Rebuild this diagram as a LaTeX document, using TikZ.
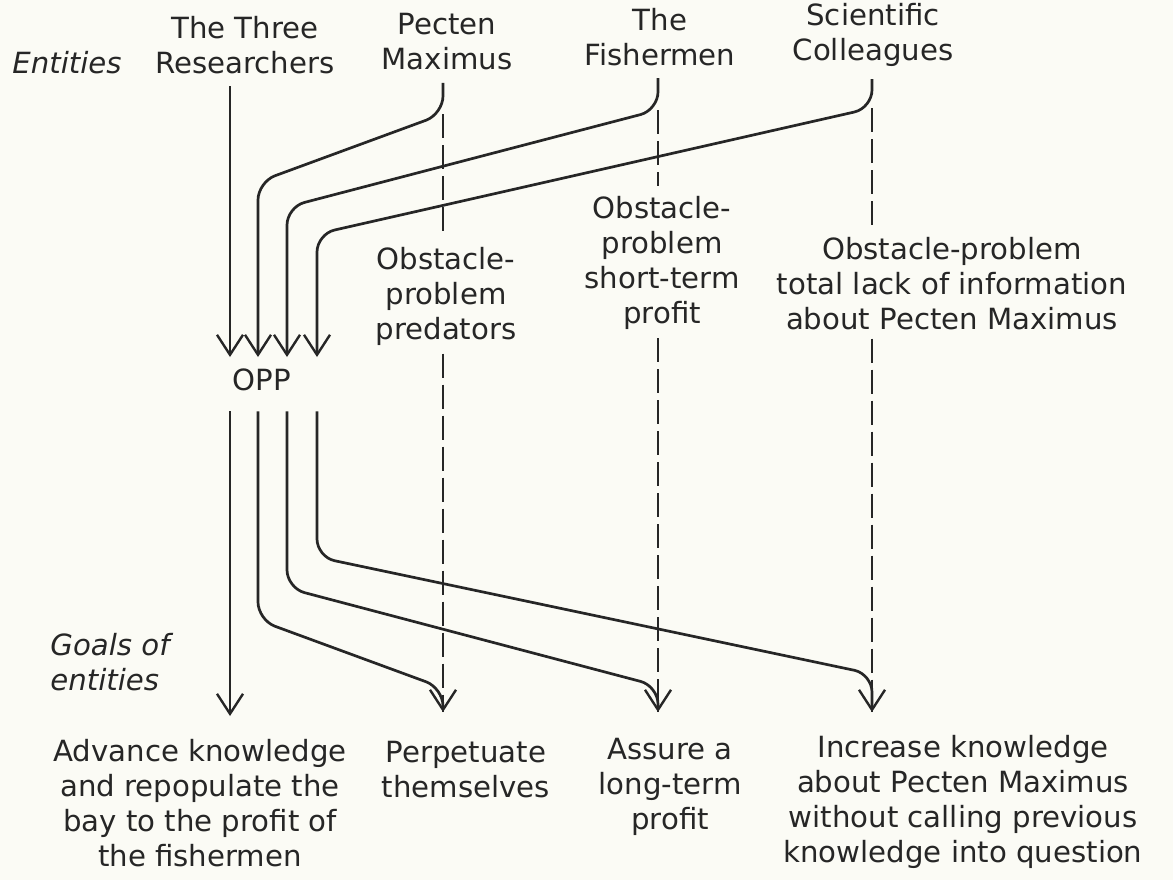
\documentclass[tikz,border=0pt]{standalone}
\usepackage{fontspec}
\setmainfont{DejaVu Sans}
\usetikzlibrary{arrows.meta}
\definecolor{paper}{HTML}{FBFBF5}
\definecolor{ink}{HTML}{262626}
\begin{document}
\begin{tikzpicture}[x=0.5pt,y=-0.5pt,
  txt/.style={inner sep=0pt,align=center,text=ink,font=\fontsize{14.6}{17.5}\selectfont},
  itxt/.style={txt,font=\fontsize{14.6}{17.5}\selectfont\itshape},
  conn/.style={draw=ink,line width=1.35pt,rounded corners=9pt},
  arr/.style={conn,-{Straight Barb[length=10pt,width=13pt,line width=1.2pt]}},
  dashline/.style={draw=ink,line width=1pt,dash pattern=on 12pt off 3.5pt}]
\fill[paper] (0,0) rectangle (1173,880);
\useasboundingbox (0,0) rectangle (1173,880);
% entities
\node[itxt] (ent) at (67,63) {Entities};
\node[txt] (res) at (245,45) {The Three\\Researchers};
\node[txt] (pec) at (447,42) {Pecten\\Maximus};
\node[txt] (fish) at (660,37) {The\\Fishermen};
\node[txt] (coll) at (873,35) {Scientific\\Colleagues};
% OPP
\node[txt] (opp) at (262,380) {OPP};
% obstacles
\node[txt] (obs1) at (446,296) {Obstacle-\\problem\\predators};
\node[txt] (obs2) at (662,263) {Obstacle-\\problem\\short-term\\profit};
\node[txt] (obs3) at (952,284) {Obstacle-problem\\total lack of information\\about Pecten Maximus};
% goals
\node[itxt,align=left,anchor=west] (goals) at (50,662) {Goals of\\entities};
\node[txt] (g1) at (200,803) {Advance knowledge\\and repopulate the\\bay to the profit of\\the fishermen};
\node[txt] (g2) at (466,770) {Perpetuate\\themselves};
\node[txt] (g3) at (670,787) {Assure a\\long-term\\profit};
\node[txt] (g4) at (963,802) {Increase knowledge\\about Pecten Maximus\\without calling previous\\knowledge into question};
% coordinates
\coordinate (in1) at (230,357);
\coordinate (in2) at (258,357);
\coordinate (in3) at (287,357);
\coordinate (in4) at (317,357);
\coordinate (pb) at (443,114);
\coordinate (fb) at (658,110);
\coordinate (cb) at (872,108);
\coordinate (pd) at (258,182);
\coordinate (fd) at (287,207);
\coordinate (cd) at (317,234);
\coordinate (t1) at (230,716);
\coordinate (t2) at (443,712);
\coordinate (t3) at (658,712);
\coordinate (t4) at (872,712);
% into OPP
\draw[arr] ([yshift=-6pt]in1 |- res.south) -- (in1);
\draw[arr] ([yshift=-6pt]pb |- pec.south) -- (pb) -- (pd) -- (in2);
\draw[arr] ([yshift=-6pt]fb |- fish.south) -- (fb) -- (fd) -- (in3);
\draw[arr] ([yshift=-6pt]cb |- coll.south) -- (cb) -- (cd) -- (in4);
% out of OPP
\draw[arr] ([yshift=-10pt]in1 |- opp.south) -- (t1);
\draw[arr] ([yshift=-10pt]in2 |- opp.south) -- (258,620) -- (443,688) -- (t2);
\draw[arr] ([yshift=-10pt]in3 |- opp.south) -- (287,588) -- (658,686) -- (t3);
\draw[arr] ([yshift=-10pt]in4 |- opp.south) -- (317,557) -- (872,674) -- (t4);
% dashed obstacle lines
\draw[dashline] (pb) -- ([yshift=5pt]pb |- obs1.north);
\draw[dashline] ([yshift=-4pt]pb |- obs1.south) -- (t2);
\draw[dashline] (fb) -- ([yshift=5pt]fb |- obs2.north);
\draw[dashline] ([yshift=-4pt]fb |- obs2.south) -- (t3);
\draw[dashline] (cb) -- ([yshift=5pt]cb |- obs3.north);
\draw[dashline] ([yshift=-4pt]cb |- obs3.south) -- (t4);
\end{tikzpicture}
\end{document}
